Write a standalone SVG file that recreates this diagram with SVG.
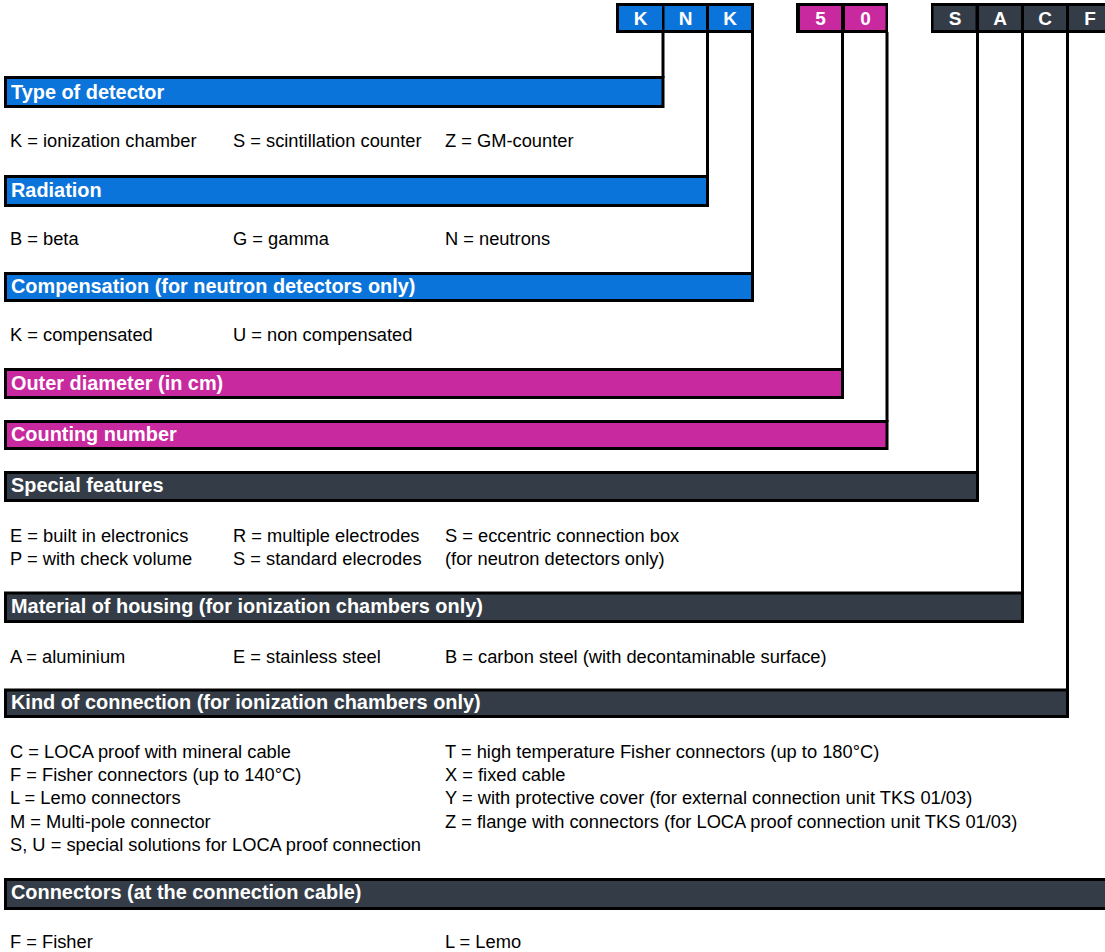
<svg xmlns="http://www.w3.org/2000/svg" width="1105" height="952" viewBox="0 0 1105 952">
<style>
.bg{fill:#ffffff}
.frame{fill:#000000}
.blue{fill:#0b74da}
.mag{fill:#c9299e}
.dark{fill:#343d47}
.bar{stroke:#000000;stroke-width:3}
.cell{font-family:"Liberation Sans",Arial,sans-serif;font-weight:bold;font-size:19px;fill:#ffffff;text-anchor:middle}
.title{font-family:"Liberation Sans",Arial,sans-serif;font-weight:bold;font-size:19.9px;fill:#ffffff}
.txt{font-family:"Liberation Sans",Arial,sans-serif;font-size:18.3px;fill:#000000}
.conn{fill:none;stroke:#000000;stroke-width:3}
</style>
<rect class="bg" x="0" y="0" width="1105" height="952"/>

<g id="connectors">
<line class="conn" x1="663" y1="32" x2="663" y2="78"/>
<line class="conn" x1="707.5" y1="32" x2="707.5" y2="177"/>
<line class="conn" x1="752.5" y1="32" x2="752.5" y2="274"/>
<line class="conn" x1="842.5" y1="32" x2="842.5" y2="370"/>
<line class="conn" x1="887" y1="32" x2="887" y2="422"/>
<line class="conn" x1="977.5" y1="32" x2="977.5" y2="473"/>
<line class="conn" x1="1022.5" y1="32" x2="1022.5" y2="594"/>
<line class="conn" x1="1067.5" y1="32" x2="1067.5" y2="690"/>
</g>

<g id="code-knk">
<rect class="frame" x="616" y="3" width="138" height="30"/>
<rect class="blue" x="619" y="6" width="43" height="24"/>
<rect class="blue" x="664.5" y="6" width="41.5" height="24"/>
<rect class="blue" x="709" y="6" width="42" height="24"/>
<text class="cell" x="640.5" y="25">K</text>
<text class="cell" x="685.5" y="25">N</text>
<text class="cell" x="730" y="25">K</text>
</g>

<g id="code-50">
<rect class="frame" x="796" y="3" width="92" height="30"/>
<rect class="mag" x="800" y="6" width="41" height="24"/>
<rect class="mag" x="845" y="6" width="40.5" height="24"/>
<text class="cell" x="820.5" y="25">5</text>
<text class="cell" x="865.5" y="25">0</text>
</g>

<g id="code-sacf">
<rect class="frame" x="931" y="3" width="180" height="30"/>
<rect class="dark" x="933.5" y="6" width="42" height="24"/>
<rect class="dark" x="979" y="6" width="42" height="24"/>
<rect class="dark" x="1024" y="6" width="42" height="24"/>
<rect class="dark" x="1069" y="6" width="42" height="24"/>
<text class="cell" x="955" y="25">S</text>
<text class="cell" x="1000" y="25">A</text>
<text class="cell" x="1045" y="25">C</text>
<text class="cell" x="1090" y="25">F</text>
</g>

<g id="type-of-detector">
<rect class="blue bar" x="5.5" y="77.5" width="657.5" height="29"/>
<text class="title" x="11" y="99">Type of detector</text>
<text class="txt" x="10" y="147">K = ionization chamber</text>
<text class="txt" x="233" y="147">S = scintillation counter</text>
<text class="txt" x="445" y="147">Z = GM-counter</text>
</g>

<g id="radiation">
<rect class="blue bar" x="5.5" y="176.5" width="702" height="29"/>
<text class="title" x="11" y="196.5">Radiation</text>
<text class="txt" x="10" y="244.5">B = beta</text>
<text class="txt" x="233" y="244.5">G = gamma</text>
<text class="txt" x="445" y="244.5">N = neutrons</text>
</g>

<g id="compensation">
<rect class="blue bar" x="5.5" y="273.5" width="747" height="27"/>
<text class="title" x="11" y="292.5">Compensation (for neutron detectors only)</text>
<text class="txt" x="10" y="341">K = compensated</text>
<text class="txt" x="233" y="341">U = non compensated</text>
</g>

<g id="outer-diameter">
<rect class="mag bar" x="5.5" y="369.5" width="837" height="28"/>
<text class="title" x="11" y="389.5">Outer diameter (in cm)</text>
</g>

<g id="counting-number">
<rect class="mag bar" x="5.5" y="421.5" width="881.5" height="27"/>
<text class="title" x="11" y="440.5">Counting number</text>
</g>

<g id="special-features">
<rect class="dark bar" x="5.5" y="472.5" width="972" height="28"/>
<text class="title" x="11" y="492">Special features</text>
<text class="txt" x="10" y="542">E = built in electronics</text>
<text class="txt" x="233" y="542">R = multiple electrodes</text>
<text class="txt" x="445" y="542">S = eccentric connection box</text>
<text class="txt" x="10" y="565">P = with check volume</text>
<text class="txt" x="233" y="565">S = standard elecrodes</text>
<text class="txt" x="445" y="565">(for neutron detectors only)</text>
</g>

<g id="material-of-housing">
<rect class="dark bar" x="5.5" y="593" width="1017" height="28.5"/>
<text class="title" x="11" y="613">Material of housing (for ionization chambers only)</text>
<text class="txt" x="10" y="663">A = aluminium</text>
<text class="txt" x="233" y="663">E = stainless steel</text>
<text class="txt" x="445" y="663">B = carbon steel (with decontaminable surface)</text>
</g>

<g id="kind-of-connection">
<rect class="dark bar" x="5.5" y="690" width="1062" height="26.5"/>
<text class="title" x="11" y="709">Kind of connection (for ionization chambers only)</text>
<text class="txt" x="10" y="758">C = LOCA proof with mineral cable</text>
<text class="txt" x="10" y="781">F = Fisher connectors (up to 140°C)</text>
<text class="txt" x="10" y="804">L = Lemo connectors</text>
<text class="txt" x="10" y="828">M = Multi-pole connector</text>
<text class="txt" x="10" y="851">S, U = special solutions for LOCA proof connection</text>
<text class="txt" x="445" y="758">T = high temperature Fisher connectors (up to 180°C)</text>
<text class="txt" x="445" y="781">X = fixed cable</text>
<text class="txt" x="445" y="804">Y = with protective cover (for external connection unit TKS 01/03)</text>
<text class="txt" x="445" y="828">Z = flange with connectors (for LOCA proof connection unit TKS 01/03)</text>
</g>

<g id="connectors-cable">
<rect class="dark bar" x="5.5" y="879.5" width="1110" height="29"/>
<text class="title" x="11" y="899">Connectors (at the connection cable)</text>
<text class="txt" x="10" y="948">F = Fisher</text>
<text class="txt" x="445" y="948">L = Lemo</text>
</g>
</svg>
